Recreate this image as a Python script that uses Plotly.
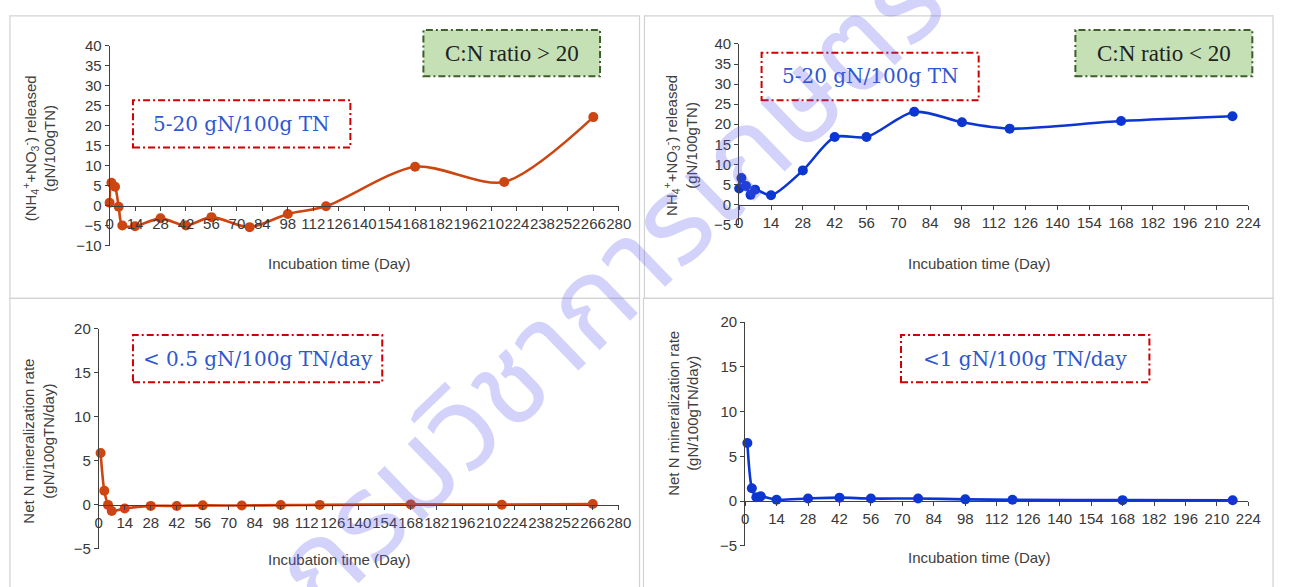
import plotly.graph_objects as go

# ---------------- data ----------------
days_high = [0, 1, 3, 5, 7, 14, 28, 42, 56, 77, 98, 119, 168, 217, 266]
released_high = [0.8, 5.8, 4.8, -0.2, -4.9, -5.1, -3.1, -4.9, -2.8, -5.3, -2.0, -0.1, 9.8, 6.0, 22.2]
rate_days_high = [1, 3, 5, 7, 14, 28, 42, 56, 77, 98, 119, 168, 217, 266]
rate_high = [5.9, 1.6, 0.0, -0.7, -0.4, -0.11, -0.12, -0.05, -0.07, -0.02, 0.0, 0.06, 0.03, 0.1]

days_low = [0, 1, 3, 5, 7, 14, 28, 42, 56, 77, 98, 119, 168, 217]
released_low = [4.0, 6.6, 4.6, 2.4, 3.7, 2.3, 8.5, 16.8, 16.8, 23.1, 20.5, 18.9, 20.8, 22.0]
rate_days_low = [1, 3, 5, 7, 14, 28, 42, 56, 77, 98, 119, 168, 217]
rate_low = [6.5, 1.45, 0.45, 0.55, 0.17, 0.31, 0.40, 0.30, 0.30, 0.21, 0.16, 0.12, 0.10]

x_title = "Incubation time (Day)"
y_title_tl = "(NH<sub>4</sub><sup>+</sup>+NO<sub>3</sub><sup>-</sup>) released<br>(gN/100gTN)"
y_title_tr = "NH<sub>4</sub><sup>+</sup>+NO<sub>3</sub><sup>-</sup>) released<br>(gN/100gTN)"
y_title_rate = "Net N mineralization rate<br>(gN/100gTN/day)"
box_texts = {
    "tl_green": "C:N ratio > 20",
    "tl_red": "5-20 gN/100g TN",
    "tr_red": "5-20 gN/100g TN",
    "tr_green": "C:N ratio < 20",
    "bl_red": "< 0.5 gN/100g TN/day",
    "br_red": "<1 gN/100g TN/day",
}
watermark = "กรมวิชาการเกษตร"

ORANGE = "#CD4510"
BLUE = "#0C36D2"
TEXT_BLUE = "#2F57D0"
AXIS = "#404040"

W, H = 1290, 587
def px(x):
    return x / W
def py(y):
    return 1 - y / H

fig = go.Figure()

panels = [
    ("", days_high, released_high, ORANGE, [0, 280], [-10, 40], 5, (107, 623), (38, 244)),
    ("2", days_low, released_low, BLUE, [0, 224], [-5, 40], 5, (745, 1261), (36, 222)),
    ("3", rate_days_high, rate_high, ORANGE, [0, 280], [-5, 20], 5, (96, 623), (329.5, 556)),
    ("4", rate_days_low, rate_low, BLUE, [0, 224], [-5, 20], 5, (751, 1261), (322.5, 553)),
]

tick_font = dict(family="Liberation Sans", size=15, color="#383838")
layout_axes = {}
for name, xs, ys, col, xr, yr, dty, xd, yd in panels:
    fig.add_trace(go.Scatter(
        x=xs, y=ys, mode="lines+markers",
        line=dict(color=col, width=2.6, shape="spline", smoothing=0.8),
        marker=dict(color=col, size=10),
        xaxis="x" + name, yaxis="y" + name, showlegend=False,
        cliponaxis=False,
    ))
    ydom = [py(yd[1]), py(yd[0])]
    xpos = ydom[0] + (0 - yr[0]) / (yr[1] - yr[0]) * (ydom[1] - ydom[0])
    layout_axes["xaxis" + name] = dict(
        domain=[px(xd[0]), px(xd[1])], range=xr, anchor="free", position=xpos,
        tickmode="linear", tick0=0, dtick=14, tickangle=0,
        showline=True, linecolor=AXIS, linewidth=1, ticks="outside", ticklen=4,
        tickcolor=AXIS, showgrid=False, zeroline=False, tickfont=tick_font,
    )
    layout_axes["yaxis" + name] = dict(
        domain=ydom, range=yr, anchor="x" + name,
        tickmode="linear", tick0=yr[0], dtick=dty,
        showline=True, linecolor=AXIS, linewidth=1, ticks="outside", ticklen=4,
        tickcolor=AXIS, showgrid=False, zeroline=False, tickfont=tick_font,
    )

fig.update_layout(**layout_axes)

shapes = []
annotations = []

# panel borders
for x0, y0, x1, y1 in [(6, 7, 644, 298), (649, 7, 1286, 298), (6, 298, 644, 600), (648, 298, 1286, 600)]:
    shapes.append(dict(type="rect", xref="paper", yref="paper",
                       x0=px(x0), x1=px(x1), y0=py(y1), y1=py(y0),
                       line=dict(color="#D2D2D2", width=1.2), fillcolor="rgba(0,0,0,0)", layer="below"))

# text boxes
boxes = [
    ("tl_green", (425, 21.7, 604, 69.3), "green"),
    ("tl_red", (130.7, 94, 351, 142.7), "red"),
    ("tr_red", (767.7, 45, 987.7, 94), "red"),
    ("tr_green", (1085.7, 21.7, 1265, 69.3), "green"),
    ("bl_red", (130.7, 335.7, 383.3, 384.3), "red"),
    ("br_red", (909, 335.7, 1160.7, 384.3), "red"),
]
for key, (x0, y0, x1, y1), kind in boxes:
    if kind == "green":
        shapes.append(dict(type="rect", xref="paper", yref="paper",
                           x0=px(x0), x1=px(x1), y0=py(y1), y1=py(y0),
                           line=dict(color="#3D5F2C", width=2, dash="7px,3px,2px,3px"),
                           fillcolor="#C6E0B5"))
        annotations.append(dict(xref="paper", yref="paper", x=px((x0 + x1) / 2), y=py((y0 + y1) / 2),
                                text=box_texts[key], showarrow=False, xanchor="center", yanchor="middle",
                                font=dict(family="Liberation Serif", size=23, color="#222222")))
    else:
        shapes.append(dict(type="rect", xref="paper", yref="paper",
                           x0=px(x0), x1=px(x1), y0=py(y1), y1=py(y0),
                           line=dict(color="#D00000", width=2, dash="7px,3px,2px,3px"),
                           fillcolor="rgba(255,255,255,0)"))
        annotations.append(dict(xref="paper", yref="paper", x=px((x0 + x1) / 2), y=py((y0 + y1) / 2),
                                text=box_texts[key], showarrow=False, xanchor="center", yanchor="middle",
                                font=dict(family="DejaVu Serif", size=20, color=TEXT_BLUE)))

# axis titles
title_font = dict(family="Liberation Sans", size=15, color="#404040")
for xc, yc in [(340, 262), (989, 262), (340, 567), (989, 565)]:
    annotations.append(dict(xref="paper", yref="paper", x=px(xc), y=py(yc), text=x_title,
                            showarrow=False, xanchor="center", yanchor="middle", font=title_font))
for txt, xc, yc in [(y_title_tl, 36, 144), (y_title_tr, 686, 140), (y_title_rate, 35, 445), (y_title_rate, 689, 416)]:
    annotations.append(dict(xref="paper", yref="paper", x=px(xc), y=py(yc), text=txt, textangle=-90,
                            showarrow=False, xanchor="center", yanchor="middle", font=title_font))

# watermark
annotations.append(dict(xref="paper", yref="paper", x=px(615), y=py(288), text=watermark, textangle=-44,
                        showarrow=False, xanchor="center", yanchor="middle",
                        font=dict(family="Noto Sans Thai, Noto Sans, sans-serif", size=120,
                                  color="rgba(90,90,240,0.27)")))

fig.update_layout(
    width=W, height=H, margin=dict(l=0, r=0, t=0, b=0),
    paper_bgcolor="white", plot_bgcolor="white",
    shapes=shapes, annotations=annotations,
)

fig.write_html("out.html")
